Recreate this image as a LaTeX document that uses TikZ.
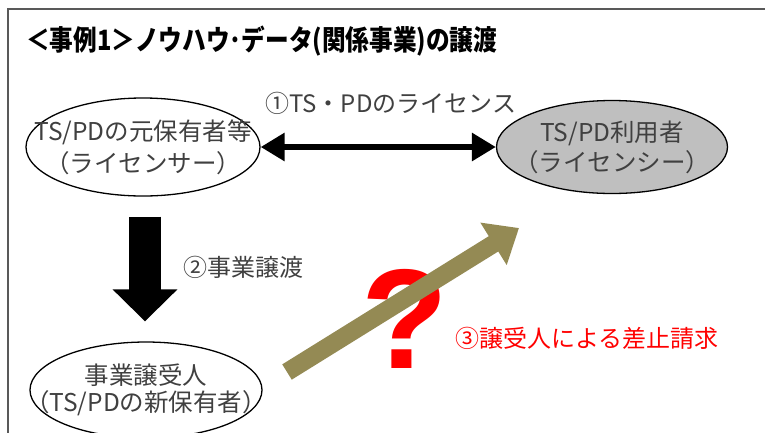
\documentclass[tikz,border=0pt]{standalone}
\usepackage{fontspec}
\setmainfont{Noto Sans CJK JP}
\newfontfamily\titlefont[FakeStretch=0.845]{Noto Sans CJK JP}
\newfontfamily\qfont{Liberation Sans}
\usetikzlibrary{shapes.geometric,arrows.meta}
\definecolor{olivearrow}{RGB}{148,138,84}
\definecolor{txtgrey}{RGB}{64,64,64}
\definecolor{ellgrey}{RGB}{191,191,191}
\begin{document}
\begin{tikzpicture}[x=1pt,y=-1pt,
  ell/.style={ellipse,draw=black,line width=1.3pt,inner sep=0pt},
  etext/.style={align=center,text=txtgrey,inner sep=0pt},
  lbl/.style={inner sep=0pt,text=txtgrey,font=\fontsize{24}{28}\selectfont},
]
\useasboundingbox (0,0) rectangle (765,432);
\draw[line width=2pt, black!65] (8,440) -- (8,9) -- (775,9);
\node[anchor=west,inner sep=0pt,font=\titlefont\bfseries\fontsize{28}{30}\selectfont] (title) at (26,41) {＜事例1＞ノウハウ･データ(関係事業)の譲渡};
\node[ell,minimum width=234pt,minimum height=98pt,label={[etext,font=\fontsize{24.5}{32}\selectfont]center:TS/PDの元保有者等\\（ライセンサー）}] (lic) at (143,147) {};
\node[ell,fill=ellgrey,minimum width=231pt,minimum height=93pt,label={[etext,font=\fontsize{24.5}{30}\selectfont]center:TS/PD利用者\\（ライセンシー）}] (lee) at (612,147) {};
\node[ell,minimum width=232pt,minimum height=96pt,label={[etext,font=\fontsize{24.5}{27}\selectfont]center:事業譲受人\\（TS/PDの新保有者）}] (succ) at (146,390) {};
\draw[line width=6pt,{Triangle[length=24pt,width=27pt]}-{Triangle[length=24pt,width=27pt]}] (lic.east) -- (lee.west);
\node[lbl,anchor=west] (l1) at (265,103) {①TS・PDのライセンス};
\draw[line width=32pt,-{Triangle[length=32pt,width=63pt]},shorten <=20pt,shorten >=20pt] (lic.south -| 145,0) -- (succ.north -| 145,0);
\node[lbl,anchor=west] (l2) at (183,267) {②事業譲渡};
\node[inner sep=0pt,text=red,font=\qfont\bfseries\fontsize{142}{142}\selectfont] (q) at (405,319) {?};
\coordinate (o1) at (287,372);
\coordinate (o2) at (519,228);
\draw[line width=18pt,olivearrow,-{Triangle[length=30pt,width=48pt]}] (o1) -- (o2);
\node[lbl,text=red,anchor=west] (l3) at (455,338) {③譲受人による差止請求};
\end{tikzpicture}
\end{document}
